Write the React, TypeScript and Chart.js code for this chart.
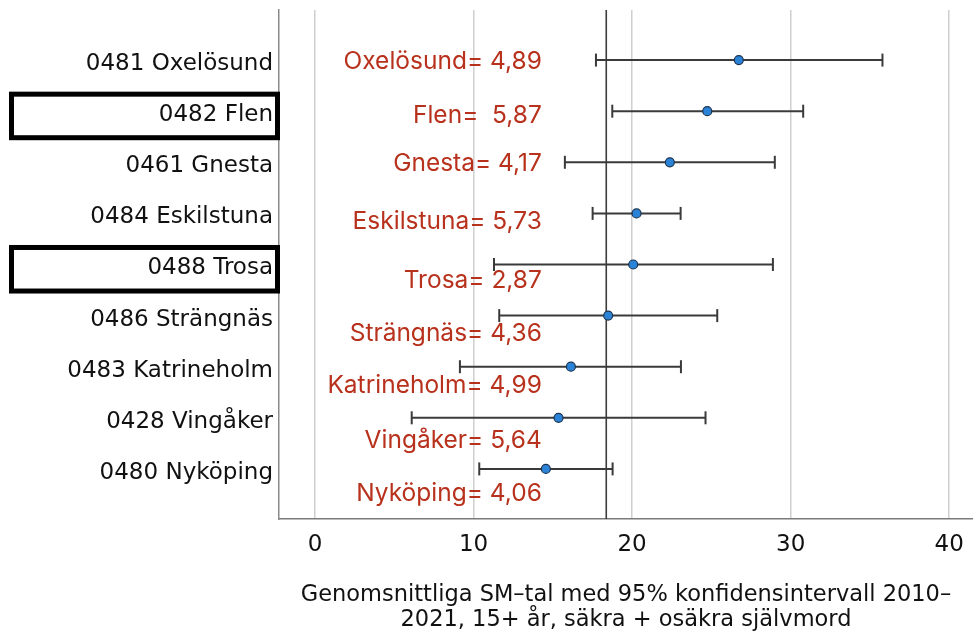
import React, { useEffect, useRef } from "react";
import { Chart, registerables } from "chart.js";

Chart.register(...registerables);

const municipalities = [
  "0481 Oxelösund",
  "0482 Flen",
  "0461 Gnesta",
  "0484 Eskilstuna",
  "0488 Trosa",
  "0486 Strängnäs",
  "0483 Katrineholm",
  "0428 Vingåker",
  "0480 Nyköping",
];
const meanSM = [26.73, 24.74, 22.38, 20.28, 20.07, 18.49, 16.14, 15.36, 14.56];
const ciLow = [17.72, 18.75, 15.76, 17.51, 11.29, 11.62, 9.14, 6.1, 10.36];
const ciHigh = [35.79, 30.79, 29.0, 23.06, 28.88, 25.37, 23.08, 24.63, 18.77];
const annotationText = [
  "Oxelösund= 4,89",
  "Flen=  5,87",
  "Gnesta= 4,17",
  "Eskilstuna= 5,73",
  "Trosa= 2,87",
  "Strängnäs= 4,36",
  "Katrineholm= 4,99",
  "Vingåker= 5,64",
  "Nyköping= 4,06",
];
const annotationRow = [0.04, 1.08, 2.02, 3.17, 4.31, 5.36, 6.38, 7.44, 8.49];
const annotationX = 14.31;
const referenceValue = 18.37;
const highlightedRows = [1, 4];
const xTickValues = [0, 10, 20, 30, 40];
const xAxisTitle = [
  "Genomsnittliga SM–tal med 95% konfidensintervall 2010–",
  "2021, 15+ år, säkra + osäkra självmord",
];

const FONT = "'DejaVu Sans', sans-serif";

const overlayPlugin = {
  id: "overlay",
  beforeDatasetsDraw(chart: any) {
    const { ctx, chartArea, scales } = chart;
    const px = scales.x.getPixelForValue(referenceValue);
    ctx.save();
    ctx.strokeStyle = "#3c3c3c";
    ctx.lineWidth = 1.6;
    ctx.beginPath();
    ctx.moveTo(px, chartArea.top);
    ctx.lineTo(px, chartArea.bottom);
    ctx.stroke();
    ctx.restore();
  },
  afterDatasetsDraw(chart: any) {
    const { ctx, scales } = chart;
    ctx.save();
    ctx.fillStyle = "#b8311c";
    ctx.font = "24.5px Inter, sans-serif";
    ctx.textAlign = "right";
    ctx.textBaseline = "middle";
    annotationText.forEach((t, i) => {
      ctx.fillText(t, scales.x.getPixelForValue(annotationX), scales.y.getPixelForValue(annotationRow[i]));
    });
    ctx.restore();
  },
  afterDraw(chart: any) {
    const { ctx, chartArea, scales } = chart;
    ctx.save();
    ctx.strokeStyle = "#000";
    ctx.lineWidth = 5;
    highlightedRows.forEach((r) => {
      const top = scales.y.getPixelForValue(r - 0.333);
      const bottom = scales.y.getPixelForValue(r + 0.519);
      const left = 11.5;
      const right = chartArea.left - 1.5;
      ctx.strokeRect(left, top, right - left, bottom - top);
    });
    ctx.restore();
  },
};

export default function App() {
  const ref = useRef<HTMLCanvasElement | null>(null);

  useEffect(() => {
    if (!ref.current) return;
    const errorSets = municipalities.map((_, i) => ({
      type: "line" as const,
      data: [
        { x: ciLow[i], y: i },
        { x: ciHigh[i], y: i },
      ],
      showLine: true,
      borderColor: "#3a3a3a",
      borderWidth: 2,
      pointStyle: "line" as const,
      rotation: 90,
      pointRadius: 6.5,
      pointBorderWidth: 2,
      pointBorderColor: "#3a3a3a",
      order: 1,
    }));
    const chart = new Chart(ref.current, {
      type: "scatter",
      data: {
        datasets: [
          {
            data: meanSM.map((v, i) => ({ x: v, y: i })),
            pointRadius: 4.5,
            pointBackgroundColor: "#2b83d8",
            pointBorderColor: "#1c3550",
            pointBorderWidth: 1.2,
            order: 0,
          },
          ...errorSets,
        ] as any,
      },
      options: {
        animation: false,
        responsive: false,
        events: [],
        layout: { autoPadding: false, padding: { top: 10, left: 0, right: 0, bottom: 0 } },
        plugins: {
          legend: { display: false },
          tooltip: { enabled: false },
        },
        scales: {
          x: {
            type: "linear",
            min: -2.27,
            max: 41.5,
            afterBuildTicks: (s: any) => {
              s.ticks = xTickValues.map((v) => ({ value: v }));
            },
            afterFit: (s: any) => {
              s.height = 114;
              s.paddingLeft = 0;
              s.paddingRight = 0;
            },
            grid: { color: "#cfcfcf", lineWidth: 1.5, drawTicks: false },
            border: { color: "#7a7a7a", width: 1.5 },
            ticks: {
              padding: 12,
              color: "#111",
              font: { family: FONT, size: 23 },
              callback: (v: any) => String(v),
            },
            title: {
              display: true,
              text: xAxisTitle,
              color: "#111",
              font: { family: FONT, size: 22.5, lineHeight: 1.12 },
              padding: { top: 27.5, bottom: 0 },
            },
          },
          y: {
            type: "linear",
            reverse: true,
            min: -0.98,
            max: 8.98,
            afterBuildTicks: (s: any) => {
              s.ticks = municipalities.map((_, i) => ({ value: i }));
            },
            afterFit: (s: any) => {
              s.width = 279;
              s.paddingTop = 0;
              s.paddingBottom = 0;
            },
            grid: { display: false, drawTicks: false },
            border: { display: true, color: "#8a8a8a", width: 1.5 },
            ticks: {
              padding: 6,
              labelOffset: 4,
              color: "#111",
              font: { family: FONT, size: 23 },
              callback: (v: any) => municipalities[v] ?? "",
            },
          },
        },
      },
      plugins: [overlayPlugin],
    });
    return () => chart.destroy();
  }, []);

  return (
    <div style={{ position: "absolute", left: 0, top: 0, width: 973, height: 633, background: "#fff" }}>
      <canvas ref={ref} width={973} height={633} style={{ display: "block" }} />
    </div>
  );
}
